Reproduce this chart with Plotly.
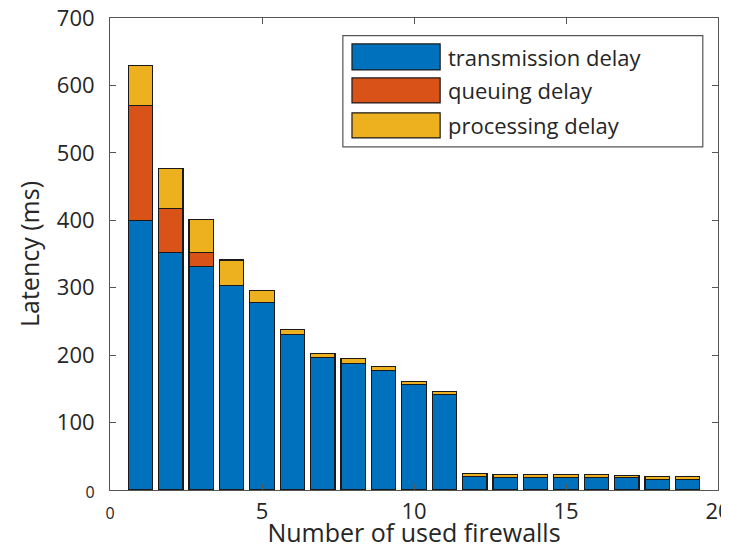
import plotly.graph_objects as go

firewalls = list(range(1, 20))
transmission = [400, 352, 331, 303, 278, 231, 196, 188, 177, 157, 142, 20, 19, 19, 19, 19, 18, 16, 16]
queuing = [170, 65, 21, 0, 0, 0, 0, 0, 0, 0, 0, 0, 0, 0, 0, 0, 0, 0, 0]
processing = [60, 60, 49, 38, 18, 7, 7, 6.5, 6, 4, 4, 5, 4, 4, 4.5, 4, 4, 3.5, 3.5]

series_names = ["transmission delay", "queuing delay", "processing delay"]
colors = ["#0072BD", "#D95319", "#EDB120"]

y_ticks = [0, 100, 200, 300, 400, 500, 600, 700]
x_ticks = [0, 5, 10, 15, 20]

FONT = "Open Sans"
TXT = "#262626"

fig = go.Figure()
for name, vals, col in zip(series_names, [transmission, queuing, processing], colors):
    fig.add_trace(go.Bar(
        x=firewalls, y=vals, name=name, width=0.8,
        marker=dict(color=col, line=dict(color="#1a1a1a", width=1.2)),
        showlegend=False,
    ))

def tick_txt(v):
    if v == 0:
        return '<span style="font-size:16px">0</span>'
    return str(v)

axis_common = dict(
    showline=True, linecolor="#555555", linewidth=1, mirror="allticks",
    ticks="inside", ticklen=6, tickcolor="#555555", tickwidth=1,
    showgrid=False, zeroline=False, automargin=False,
    ticklabeloverflow="allow",
    tickfont=dict(family=FONT, size=22, color=TXT),
    title_font=dict(family=FONT, size=25, color=TXT),
)

fig.update_xaxes(
    range=[0, 20], tickmode="array", tickvals=x_ticks,
    ticktext=[tick_txt(v) for v in x_ticks],
    title_text="Number of used firewalls", title_standoff=11,
    ticklabelstandoff=2,
    **axis_common,
)
fig.update_yaxes(
    range=[0, 700], tickmode="array", tickvals=y_ticks,
    ticktext=[tick_txt(v) for v in y_ticks],
    title_text="Latency (ms)", title_standoff=10,
    ticklabelstandoff=10,
    **axis_common,
)

# Legend box (MATLAB style with large swatches)
fig.add_shape(type="rect", xref="paper", yref="paper",
              x0=0.383, x1=0.975, y0=0.727, y1=0.9625,
              line=dict(color="#555555", width=1.2), fillcolor="white", layer="above")
rows = [(0.890, 0.945, 0.917), (0.820, 0.873, 0.847), (0.746, 0.799, 0.773)]
for (y0, y1, yc), name, col in zip(rows, series_names, colors):
    fig.add_shape(type="rect", xref="paper", yref="paper",
                  x0=0.398, x1=0.543, y0=y0, y1=y1,
                  line=dict(color="#1a1a1a", width=1.2), fillcolor=col, layer="above")
    fig.add_annotation(xref="paper", yref="paper", x=0.5526, y=yc,
                       text=name, showarrow=False, xanchor="left", yanchor="middle",
                       font=dict(family=FONT, size=22, color=TXT))

# page has an 8px body margin: shrink the figure so the plot area lands where the reference has it
fig.update_layout(
    barmode="stack", bargap=0.2,
    width=721, height=541,
    margin=dict(l=102, r=11, t=10, b=59),
    plot_bgcolor="white", paper_bgcolor="white",
    font=dict(family=FONT, color=TXT),
)

fig.write_html("out.html")
